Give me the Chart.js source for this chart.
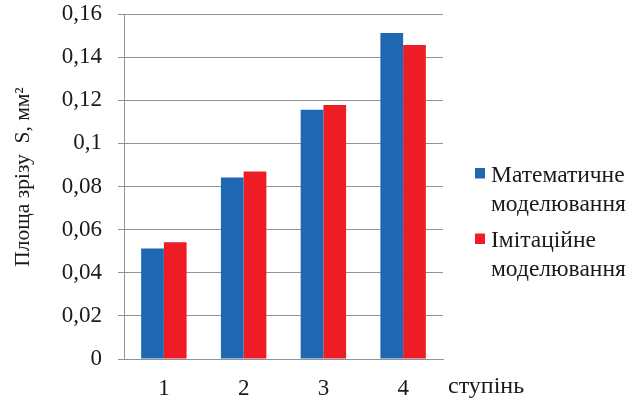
<!DOCTYPE html>
<html>
<head>
<meta charset="utf-8">
<script src="https://cdn.jsdelivr.net/npm/chart.js@4"></script>
<style>
  html, body { margin: 0; padding: 0; background: #ffffff; }
  #wrap { width: 630px; height: 402px; position: relative; }
</style>
</head>
<body>
<div id="wrap"><canvas id="areaChart"></canvas></div>
<script>
const stages = ["1", "2", "3", "4"];
const mathModel = [0.0513, 0.0842, 0.1156, 0.1512];
const simModel = [0.0542, 0.0870, 0.1178, 0.1456];
const seriesNames = [["Математичне", "моделювання"], ["Імітаційне", "моделювання"]];
const yTitle = "Площа зрізу  S, мм²";
const xTitle = "ступінь";

const serif = "'Liberation Serif', 'Times New Roman', serif";
const gridGray = "#939393";
const textColor = "#1a1a1a";

function formatTick(value) {
  return String(Number(value.toFixed(2))).replace(".", ",");
}

// legend on the right, with two-line labels
const sideLegend = {
  id: "sideLegend",
  afterDraw(chart) {
    const ctx = chart.ctx;
    const baselines = [181.5, 247];
    ctx.save();
    ctx.font = "23.5px " + serif;
    ctx.textBaseline = "alphabetic";
    chart.data.datasets.forEach((dataset, i) => {
      const y = baselines[i];
      ctx.fillStyle = dataset.backgroundColor;
      ctx.fillRect(475, y - 13.5, 10, 10.5);
      ctx.fillStyle = textColor;
      seriesNames[i].forEach((line, j) => {
        ctx.fillText(line, 491, y + j * 29);
      });
    });
    ctx.restore();
  }
};

// axis titles: y title rotated on the left, x title to the right of the labels
const axisTitles = {
  id: "axisTitles",
  afterDraw(chart) {
    const ctx = chart.ctx;
    ctx.save();
    ctx.fillStyle = textColor;
    ctx.textBaseline = "alphabetic";

    ctx.font = "24px " + serif;
    ctx.textAlign = "left";
    ctx.fillText(xTitle, chart.chartArea.right + 5, 393);

    ctx.font = "21.5px " + serif;
    ctx.textAlign = "center";
    ctx.translate(29, 177);
    ctx.rotate(-Math.PI / 2);
    ctx.fillText(yTitle, 0, 0);
    ctx.restore();
  }
};

new Chart(document.getElementById("areaChart"), {
  type: "bar",
  data: {
    labels: stages,
    datasets: [
      {
        label: seriesNames[0].join(" "),
        data: mathModel,
        backgroundColor: "#1f67b3"
      },
      {
        label: seriesNames[1].join(" "),
        data: simModel,
        backgroundColor: "#ee1d25"
      }
    ]
  },
  options: {
    responsive: true,
    maintainAspectRatio: false,
    animation: false,
    layout: { padding: { top: 14, right: 187, bottom: 0, left: 0 } },
    datasets: {
      bar: { categoryPercentage: 0.57, barPercentage: 1 }
    },
    scales: {
      x: {
        grid: { display: false, drawTicks: false },
        border: { display: true, color: gridGray, width: 1 },
        ticks: { color: textColor, padding: 16, font: { family: serif, size: 23 } },
        afterFit(scale) { scale.height = 43; }
      },
      y: {
        min: 0,
        max: 0.16,
        ticks: {
          stepSize: 0.02,
          color: textColor,
          padding: 16,
          font: { family: serif, size: 23 },
          callback: (value) => formatTick(value)
        },
        grid: { color: gridGray, lineWidth: 1, tickLength: 6 },
        border: { display: true, color: gridGray, width: 1 },
        afterFit(scale) {
          scale.width = 124;
          scale.paddingTop = 0;
          scale.paddingBottom = 0;
        }
      }
    },
    plugins: {
      legend: { display: false },
      tooltip: { enabled: false }
    }
  },
  plugins: [sideLegend, axisTitles]
});
</script>
</body>
</html>
